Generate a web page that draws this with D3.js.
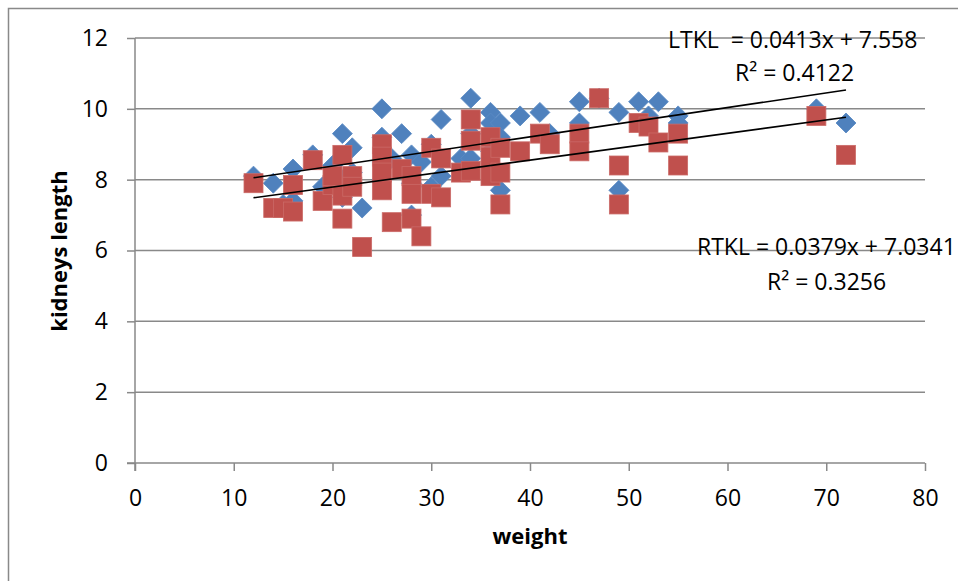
<!DOCTYPE html>
<html>
<head>
<meta charset="utf-8">
<script src="https://cdn.jsdelivr.net/npm/d3@7/dist/d3.min.js"></script>
<style>
  html, body { margin: 0; padding: 0; background: #fff; }
  svg { display: block; font-family: "Open Sans", Lato, sans-serif; }
</style>
</head>
<body>
<svg id="chart" width="958" height="581"></svg>
<script>
// Body weight of each subject with left (LTKL) and right (RTKL) kidney length
const weight = [12, 14, 15, 16, 16, 18, 19, 20, 20, 21, 21, 21, 22, 22, 23,
  25, 25, 25, 25, 26, 27, 28, 28, 28, 29, 30, 30, 31, 31, 33, 34, 34, 34,
  36, 36, 36, 37, 37, 37, 39, 41, 42, 45, 45, 47, 49, 49, 51, 52, 53, 55, 55, 69, 72];
const ltkl = [8.1, 7.9, 7.3, 8.3, 7.4, 8.7, 7.8, 8.4, 8.0, 9.3, 8.0, 7.5, 8.9, 8.2, 7.2,
  10.0, 9.2, 8.5, 8.0, 8.6, 9.3, 8.7, 7.9, 7.0, 8.5, 9.0, 7.8, 9.7, 8.1, 8.6, 10.3, 9.3, 8.6,
  9.9, 9.6, 8.8, 9.6, 9.2, 7.7, 9.8, 9.9, 9.3, 10.2, 9.6, 10.3, 9.9, 7.7, 10.2, 9.8, 10.2, 9.8, 9.6, 10.0, 9.6];
const rtkl = [7.9, 7.2, 7.2, 7.85, 7.1, 8.55, 7.4, 7.85, 8.1, 8.7, 7.55, 6.9, 8.1, 7.8, 6.1,
  9.0, 8.65, 8.2, 7.7, 6.8, 8.3, 8.1, 7.6, 6.9, 6.4, 8.9, 7.6, 8.6, 7.5, 8.2, 9.7, 9.1, 8.25,
  9.2, 8.65, 8.1, 8.9, 8.2, 7.3, 8.8, 9.3, 9.0, 9.3, 8.8, 10.3, 8.4, 7.3, 9.6, 9.5, 9.05, 9.3, 8.4, 9.8, 8.7];

// Linear trend fits (slope, intercept, R²)
const ltklFit = { slope: 0.0413, intercept: 7.558, r2: 0.4122 };
const rtklFit = { slope: 0.0379, intercept: 7.0341, r2: 0.3256 };

const xTicks = [0, 10, 20, 30, 40, 50, 60, 70, 80];
const yTicks = [0, 2, 4, 6, 8, 10, 12];

const svg = d3.select("#chart");
const x = d3.scaleLinear().domain([0, 80]).range([135, 925]);
const y = d3.scaleLinear().domain([0, 12]).range([463, 38]);
const gridColor = "#898989";

// chart area frame
svg.append("rect")
  .attr("x", 8.5).attr("y", 8.5).attr("width", 980).attr("height", 600)
  .attr("fill", "none").attr("stroke", gridColor).attr("stroke-width", 1.5);

// horizontal gridlines
svg.append("g").selectAll("line").data(yTicks.slice(1)).join("line")
  .attr("x1", x(0)).attr("x2", x(80))
  .attr("y1", d => y(d)).attr("y2", d => y(d))
  .attr("stroke", gridColor).attr("stroke-width", 1.5);

// axes
const yAxis = svg.append("g").attr("transform", `translate(${x(0)},0)`)
  .call(d3.axisLeft(y).tickValues(yTicks).tickSize(8).tickPadding(19).tickFormat(d3.format("d")));
const xAxis = svg.append("g").attr("transform", `translate(0,${y(0)})`)
  .call(d3.axisBottom(x).tickValues(xTicks).tickSize(8).tickPadding(19).tickFormat(d3.format("d")));
[xAxis, yAxis].forEach(g => {
  g.select(".domain").attr("stroke", gridColor).attr("stroke-width", 1.5);
  g.selectAll(".tick line").attr("stroke", gridColor).attr("stroke-width", 1.5);
  g.selectAll(".tick text").attr("fill", "#000").style("font-size", "23px").style("font-family", "'Open Sans', sans-serif");
});
// extend axis lines past origin like the tick stubs
xAxis.select(".domain").attr("d", `M${x(0) - 8},0H${x(80)}`);
yAxis.select(".domain").attr("d", `M0,${y(12)}V${y(0) + 8}`);

const pts = weight.map((w, i) => ({ w, l: ltkl[i], r: rtkl[i] }));

// LTKL: blue diamonds
const dia = d3.symbol().type(d3.symbolSquare).size(200);
svg.append("g").selectAll("path").data(pts).join("path")
  .attr("d", dia)
  .attr("transform", d => `translate(${x(d.w)},${y(d.l)}) rotate(45)`)
  .attr("fill", "#4F81BD").attr("stroke", "#5A8AC4").attr("stroke-width", 0.8);

// RTKL: red squares
const sq = 19;
svg.append("g").selectAll("rect").data(pts).join("rect")
  .attr("x", d => x(d.w) - sq / 2).attr("y", d => y(d.r) - sq / 2)
  .attr("width", sq).attr("height", sq)
  .attr("fill", "#C0504D").attr("stroke", "#CB6A67").attr("stroke-width", 0.8);

// trendlines across the observed weight range
const [wMin, wMax] = d3.extent(weight);
[ltklFit, rtklFit].forEach(f => {
  svg.append("line")
    .attr("x1", x(wMin)).attr("y1", y(f.slope * wMin + f.intercept))
    .attr("x2", x(wMax)).attr("y2", y(f.slope * wMax + f.intercept))
    .attr("stroke", "#000").attr("stroke-width", 1.6);
});

// equation labels
const eq = svg.append("g").style("font-size", "23px").attr("fill", "#000");
eq.append("text").attr("x", 668).attr("y", 48)
  .attr("xml:space", "preserve")
  .text(`LTKL  = ${ltklFit.slope}x + ${ltklFit.intercept}`);
eq.append("text").attr("x", 735).attr("y", 81)
  .text(`R² = ${ltklFit.r2}`);
eq.append("text").attr("x", 697).attr("y", 255)
  .text(`RTKL = ${rtklFit.slope}x + ${rtklFit.intercept}`);
eq.append("text").attr("x", 767).attr("y", 290)
  .text(`R² = ${rtklFit.r2}`);

// axis titles
svg.append("text").attr("x", 530).attr("y", 544).attr("text-anchor", "middle")
  .style("font-size", "22px").style("font-weight", "bold").text("weight");
svg.append("text").attr("transform", "translate(67,251) rotate(-90)").attr("text-anchor", "middle")
  .style("font-size", "22px").style("font-weight", "bold").text("kidneys length");
</script>
</body>
</html>
